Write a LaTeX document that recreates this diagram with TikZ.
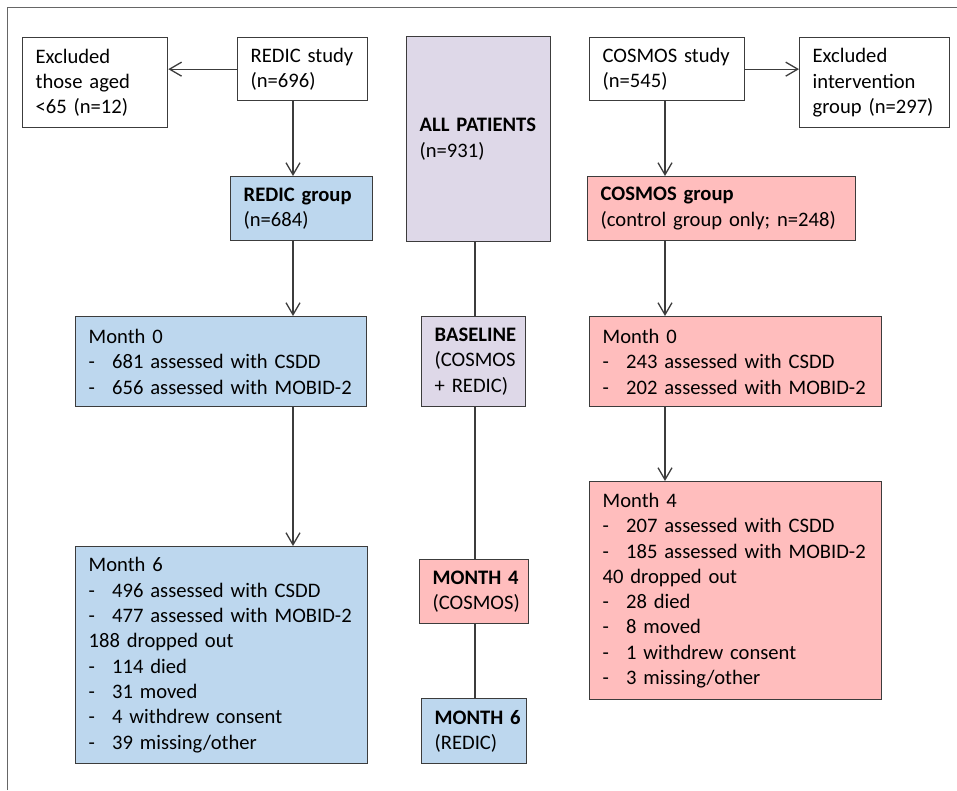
\documentclass[tikz,border=0pt]{standalone}
\usepackage{fontspec}
\setmainfont{Carlito}
\usetikzlibrary{arrows.meta}
\definecolor{bxblue}{HTML}{BDD7EE}
\definecolor{bxpink}{HTML}{FFBDBD}
\definecolor{bxlav}{HTML}{DED8E8}
\definecolor{bxline}{HTML}{3C3C3C}
\newcommand{\li}[1]{\mbox{#1}}
\newcommand{\bul}[1]{\mbox{\makebox[23.5pt][l]{-}#1}}
\begin{document}
\begin{tikzpicture}[x=1pt,y=-1pt,
  bx/.style={draw=bxline, line width=1.3pt, rectangle, anchor=north west, align=left,
    inner xsep=13pt, inner ysep=0pt, font=\fontsize{20.6}{25.3}\selectfont},
  conn/.style={draw=bxline, line width=1.3pt},
  arr/.style={conn, -{Straight Barb[length=12pt,width=14pt]}}]
\useasboundingbox (0,0) rectangle (957,790);
\draw[line width=1.2pt, draw=black!60] (7.5,790) -- (7.5,7.5) -- (957,7.5);

\coordinate (cA) at (293,0);
\coordinate (cM) at (475,0);
\coordinate (cB) at (665,0);

% left column
\node[bx, text width=119pt, minimum height=90pt] (exA) at (22,37)
  {\li{Excluded}\\\li{those aged}\\\li{<65 (n=12)}};
\node[bx, text width=104pt, minimum height=63pt] (redicS) at (237,37)
  {\li{REDIC study}\\\li{(n=696)}};
\node[bx, fill=bxblue, text width=116pt, minimum height=64pt] (redicG) at (230,176)
  {\li{\textbf{REDIC group}}\\\li{(n=684)}};
\node[bx, fill=bxblue, text width=265pt, minimum height=90pt] (redic0) at (75,316)
  {\li{Month 0}\\\bul{681 assessed with CSDD}\\\bul{656 assessed with MOBID-2}};
\node[bx, fill=bxblue, text width=266pt, minimum height=217pt] (redic6) at (75,546)
  {\li{Month 6}\\\bul{496 assessed with CSDD}\\\bul{477 assessed with MOBID-2}\\
   \li{188 dropped out}\\\bul{114 died}\\\bul{31 moved}\\\bul{4 withdrew consent}\\\bul{39 missing/other}};

% middle column
\node[bx, fill=bxlav, text width=118pt, minimum height=205pt] (all) at (406,36)
  {\li{\textbf{ALL PATIENTS}}\\\li{(n=931)}};
\node[bx, fill=bxlav, text width=78pt, minimum height=90pt] (base) at (421,316)
  {\li{\textbf{BASELINE}}\\\li{(COSMOS}\\\li{+ REDIC)}};
\node[bx, fill=bxpink, text width=83pt, minimum height=64pt] (m4) at (419,559)
  {\li{\textbf{MONTH 4}}\\\li{(COSMOS)}};
\node[bx, fill=bxblue, text width=79pt, minimum height=65pt] (m6) at (421,698)
  {\li{\textbf{MONTH 6}}\\\li{(REDIC)}};

% right column
\node[bx, text width=129pt, minimum height=63pt] (cosS) at (589,37)
  {\li{COSMOS study}\\\li{(n=545)}};
\node[bx, text width=124pt, minimum height=90pt] (exB) at (799,37)
  {\li{Excluded}\\\li{intervention}\\\li{group (n=297)}};
\node[bx, fill=bxpink, text width=242pt, minimum height=64pt] (cosG) at (587,176)
  {\li{\textbf{COSMOS group}}\\\li{(control group only; n=248)}};
\node[bx, fill=bxpink, text width=266pt, minimum height=90pt] (cos0) at (589,316)
  {\li{Month 0}\\\bul{243 assessed with CSDD}\\\bul{202 assessed with MOBID-2}};
\node[bx, fill=bxpink, text width=266pt, minimum height=218pt] (cos4) at (589,481)
  {\li{Month 4}\\\bul{207 assessed with CSDD}\\\bul{185 assessed with MOBID-2}\\
   \li{40 dropped out}\\\bul{28 died}\\\bul{8 moved}\\\bul{1 withdrew consent}\\\bul{3 missing/other}};

% connectors
\draw[arr] (redicS.west) -- (redicS.west -| exA.east);
\draw[arr] (cosS.east) -- (cosS.east -| exB.west);
\draw[arr] (redicS.south -| cA) -- (redicG.north -| cA);
\draw[arr] (redicG.south -| cA) -- (redic0.north -| cA);
\draw[arr] (redic0.south -| cA) -- (redic6.north -| cA);
\draw[arr] (cosS.south -| cB) -- (cosG.north -| cB);
\draw[arr] (cosG.south -| cB) -- (cos0.north -| cB);
\draw[arr] (cos0.south -| cB) -- (cos4.north -| cB);
\draw[conn] (all.south -| cM) -- (base.north -| cM);
\draw[conn] (base.south -| cM) -- (m4.north -| cM);
\draw[conn] (m4.south -| cM) -- (m6.north -| cM);
\end{tikzpicture}
\end{document}
